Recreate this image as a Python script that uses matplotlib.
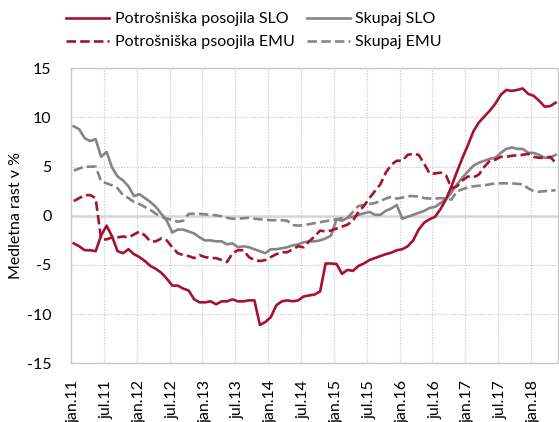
import matplotlib
matplotlib.use('Agg')
import matplotlib.pyplot as plt
import numpy as np

plt.rcParams['font.family'] = ['Lato', 'DejaVu Sans']

# ---- data (monthly, jan.2011 - may.2018) ----
potr_slo = [-2.8, -3.1, -3.5, -3.5, -3.6, -2.0, -1.0, -2.1, -3.6, -3.8,
            -3.4, -3.9, -4.2, -4.6, -5.1, -5.4, -5.8, -6.4, -7.1, -7.1,
            -7.4, -7.6, -8.5, -8.8, -8.8, -8.7, -9.0, -8.7, -8.7, -8.5,
            -8.7, -8.7, -8.6, -8.6, -11.1, -10.8, -10.3, -9.1, -8.7, -8.6,
            -8.7, -8.6, -8.2, -8.1, -8.0, -7.7, -4.85, -4.85, -4.9, -5.9,
            -5.5, -5.6, -5.1, -4.85, -4.5, -4.3, -4.1, -3.9, -3.75, -3.5,
            -3.4, -3.1, -2.5, -1.4, -0.7, -0.35, -0.1, 0.7, 1.7, 3.0,
            4.5, 5.9, 7.2, 8.6, 9.5, 10.1, 10.7, 11.4, 12.3, 12.8,
            12.7, 12.8, 12.95, 12.4, 12.2, 11.7, 11.1, 11.15, 11.5]

skupaj_slo = [9.1, 8.8, 7.9, 7.6, 7.8, 6.0, 6.5, 4.9, 4.0, 3.6,
              3.0, 2.0, 2.2, 1.8, 1.4, 0.9, 0.2, -0.5, -1.7, -1.4,
              -1.4, -1.6, -1.8, -2.2, -2.5, -2.5, -2.6, -2.6, -2.9, -2.8,
              -3.2, -3.1, -3.2, -3.4, -3.6, -3.8, -3.4, -3.4, -3.3, -3.2,
              -3.0, -2.9, -2.7, -2.6, -2.6, -2.5, -2.3, -2.0, -0.35, -0.5,
              -0.2, -0.1, 0.1, 0.25, 0.4, 0.1, 0.1, 0.5, 0.75, 1.1,
              -0.3, -0.1, 0.1, 0.3, 0.5, 0.8, 0.9, 1.3, 1.7, 2.4,
              3.2, 3.9, 4.5, 5.1, 5.4, 5.6, 5.8, 5.9, 6.4, 6.8,
              6.95, 6.8, 6.8, 6.4, 6.4, 6.2, 5.9, 5.9, 6.2]

potr_emu = [1.5, 1.8, 2.1, 2.1, 1.8, -2.4, -2.4, -2.2, -2.2, -2.1,
            -2.2, -1.9, -1.6, -2.0, -2.6, -2.6, -2.3, -2.5, -3.2, -3.8,
            -4.0, -4.1, -4.3, -4.0, -4.2, -4.3, -4.3, -4.5, -4.7, -3.8,
            -3.5, -3.5, -4.2, -4.5, -4.6, -4.5, -4.2, -3.9, -3.7, -3.7,
            -3.4, -3.1, -3.2, -2.6, -2.1, -1.5, -1.6, -1.5, -1.3, -1.1,
            -0.9, -0.5, 0.4, 1.0, 1.8, 2.5, 3.2, 4.4, 5.2, 5.6,
            5.6, 6.2, 6.3, 6.2, 5.3, 4.3, 4.3, 4.4, 4.1, 2.8,
            3.0, 3.6, 4.0, 3.9, 4.2, 5.0, 5.6, 5.7, 6.0, 6.0,
            6.1, 6.15, 6.2, 6.3, 6.0, 5.9, 5.9, 6.0, 5.4]

skupaj_emu = [4.6, 4.8, 5.0, 5.0, 5.0, 3.5, 3.3, 3.1, 2.8, 2.1,
              1.8, 1.4, 1.2, 0.9, 0.6, 0.2, -0.1, -0.3, -0.4, -0.6,
              -0.5, 0.2, 0.2, 0.2, 0.15, 0.1, 0.05, -0.05, -0.2, -0.3,
              -0.3, -0.25, -0.2, -0.3, -0.35, -0.4, -0.45, -0.45, -0.45, -0.5,
              -0.95, -1.0, -0.95, -0.85, -0.75, -0.65, -0.55, -0.45, -0.35, -0.25,
              -0.2, 0.4, 1.0, 1.1, 1.2, 1.3, 1.5, 1.75, 1.95, 1.75,
              1.85, 2.0, 2.0, 1.95, 1.8, 1.75, 1.75, 1.8, 1.75, 1.65,
              2.5, 2.7, 2.9, 3.0, 3.05, 3.1, 3.2, 3.3, 3.3, 3.3,
              3.3, 3.25, 3.2, 2.8, 2.5, 2.45, 2.5, 2.55, 2.6]

tick_labels = ['jan.11', 'jul.11', 'jan.12', 'jul.12', 'jan.13', 'jul.13',
               'jan.14', 'jul.14', 'jan.15', 'jul.15', 'jan.16', 'jul.16',
               'jan.17', 'jul.17', 'jan.18']
yticks = [-15, -10, -5, 0, 5, 10, 15]

labels = ['Potrošniška posojila SLO', 'Potrošniška psoojila EMU',
          'Skupaj SLO', 'Skupaj EMU']

RED = '#A4122F'
GRAY = '#858585'
GRID = '#c4c4c4'

n = len(potr_slo)
x = np.arange(n) + 0.5

fig = plt.figure(figsize=(5.59, 4.22), dpi=100)
ax = fig.add_axes([71 / 559, 1 - 363.3 / 422, (558.3 - 71) / 559, (363.3 - 68.3) / 422])

lw = 1.9
dash = (3.6, 1.6)
l1, = ax.plot(x, potr_slo, color=RED, lw=lw, zorder=5)
l2, = ax.plot(x, potr_emu, color=RED, lw=lw, dashes=dash, zorder=4)
l3, = ax.plot(x, skupaj_slo, color=GRAY, lw=lw, zorder=3)
l4, = ax.plot(x, skupaj_emu, color=GRAY, lw=lw, dashes=dash, zorder=3)

ax.set_xlim(0, n)
ax.set_ylim(-15, 15)
ax.set_yticks(yticks)
ax.set_yticklabels([str(v) for v in yticks])
ax.set_xticks(np.arange(0, n, 6)[:len(tick_labels)] + 0.5)
ax.set_xticklabels(tick_labels, rotation=90)
ax.set_xticks(np.arange(0, n, 6), minor=True)

ax.grid(which='minor', axis='x', ls=(0, (1, 1.5)), color=GRID, lw=0.8)
ax.grid(which='major', axis='y', ls=(0, (1, 1.5)), color=GRID, lw=0.8)
ax.grid(which='major', axis='x', visible=False)
ax.axhline(0, color='#d6d6d6', lw=1.8, zorder=1)
ax.set_axisbelow(True)

for s in ax.spines.values():
    s.set_color('#c8c8c8')
    s.set_linewidth(1.0)

ax.tick_params(axis='x', which='both', length=0, pad=12, labelsize=11.5)
ax.tick_params(axis='y', which='both', length=0, pad=14, labelsize=11.5)
ax.set_ylabel('Medletna rast v %', fontsize=11.5, labelpad=3)

fig.legend([l1, l2, l3, l4], labels, ncol=2, loc='upper left',
           bbox_to_anchor=(66 / 559, 1 - 12 / 422), frameon=False,
           fontsize=11.5, handlelength=2.7, handletextpad=0.35,
           labelspacing=0.55, columnspacing=0.75, borderpad=0, borderaxespad=0)

fig.savefig('out.png', dpi=100)
